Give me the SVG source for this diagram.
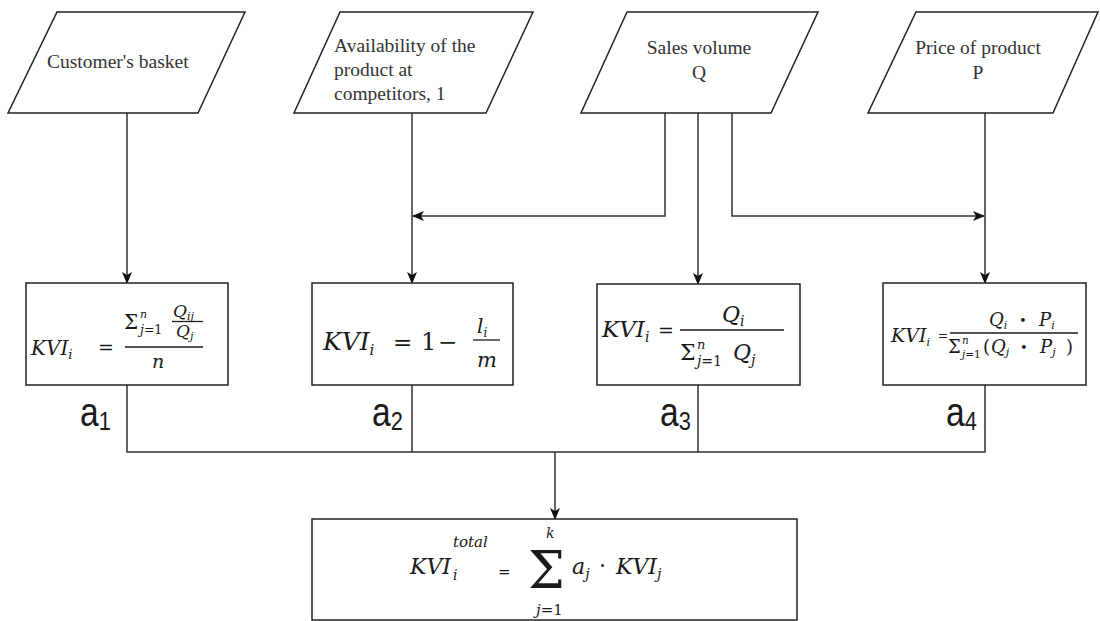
<svg xmlns="http://www.w3.org/2000/svg" width="1100" height="621" viewBox="0 0 1100 621">
<defs>
<marker id="arr" viewBox="0 0 12 10" refX="11" refY="5" markerWidth="12" markerHeight="10" markerUnits="userSpaceOnUse" orient="auto">
<path d="M0,0 L12,5 L0,10 L3,5 Z" fill="#111"/>
</marker>
</defs>
<style>
.shape{fill:#fff;stroke:#222;stroke-width:1.5}
.lbl{font-family:"Liberation Serif",serif;font-size:19.5px;fill:#333}
.m{font-family:"DejaVu Serif",serif;font-style:italic;fill:#1a1a1a}
.u{font-family:"DejaVu Serif",serif;fill:#1a1a1a}
.bar{stroke:#1a1a1a;stroke-width:1.3}
.conn{fill:none;stroke:#333;stroke-width:1.5}
.a{font-family:"Liberation Sans",sans-serif;fill:#1a1a1a}
</style>
<rect width="1100" height="621" fill="#fff"/>

<g id="connectors">
<path class="conn" d="M127,113 V283" marker-end="url(#arr)"/>
<path class="conn" d="M412,113 V283" marker-end="url(#arr)"/>
<path class="conn" d="M665,113 V216 H413" marker-end="url(#arr)"/>
<path class="conn" d="M698,113 V284" marker-end="url(#arr)"/>
<path class="conn" d="M732,113 V216 H984" marker-end="url(#arr)"/>
<path class="conn" d="M985,113 V283" marker-end="url(#arr)"/>
<path class="conn" d="M127,385 V452 H985 V385 M412,385 V452 M698,385 V452"/>
<path class="conn" d="M555,452 V519" marker-end="url(#arr)"/>
</g>

<g id="in1">
<polygon class="shape" points="57,12 245,12 198,113 8,113"/>
<text class="lbl" x="47" y="68">Customer's basket</text>
</g>
<g id="in2">
<polygon class="shape" points="340,12 533,12 486,113 294,113"/>
<text class="lbl" x="334" y="52">Availability of the</text>
<text class="lbl" x="334" y="76">product at</text>
<text class="lbl" x="334" y="100">competitors, 1</text>
</g>
<g id="in3">
<polygon class="shape" points="627,12 818,12 771,113 581,113"/>
<text class="lbl" x="699" y="54" text-anchor="middle">Sales volume</text>
<text class="lbl" x="699" y="79" text-anchor="middle">Q</text>
</g>
<g id="in4">
<polygon class="shape" points="916,12 1098,12 1053,113 868,113"/>
<text class="lbl" x="978" y="54" text-anchor="middle">Price of product</text>
<text class="lbl" x="978" y="79" text-anchor="middle">P</text>
</g>

<g id="kvi1">
<rect class="shape" x="26" y="283" width="202" height="102"/>
<text class="m" x="31" y="355" font-size="20">KVI<tspan font-size="13" dy="4">i</tspan></text>
<text class="u" x="98" y="354" font-size="19">=</text>
<text class="u" x="124" y="329" font-size="20">Σ</text>
<text class="m" x="140" y="318" font-size="11">n</text>
<text class="m" x="140" y="334" font-size="12.5">j<tspan font-style="normal">=1</tspan></text>
<text class="m" x="173" y="317" font-size="17">Q<tspan font-size="11" dy="3">ij</tspan></text>
<line class="bar" x1="172" y1="321.5" x2="203" y2="321.5"/>
<text class="m" x="176" y="337" font-size="17">Q<tspan font-size="11" dy="3">j</tspan></text>
<line class="bar" x1="125" y1="347" x2="203" y2="347"/>
<text class="m" x="158" y="368" font-size="19" text-anchor="middle">n</text>
</g>

<g id="kvi2">
<rect class="shape" x="312" y="283" width="201" height="102"/>
<text class="m" x="323" y="350" font-size="25">KVI<tspan font-size="15" dy="5">i</tspan></text>
<text class="u" x="393" y="350" font-size="23">=</text>
<text class="u" x="421" y="350" font-size="24">1</text>
<text class="u" x="438" y="350" font-size="23">−</text>
<text class="m" x="477" y="333" font-size="20">l<tspan font-size="12" dy="4">i</tspan></text>
<line class="bar" x1="473" y1="340" x2="500" y2="340"/>
<text class="m" x="487" y="367" font-size="21" text-anchor="middle">m</text>
</g>

<g id="kvi3">
<rect class="shape" x="597" y="284" width="203" height="101"/>
<text class="m" x="602" y="337" font-size="23">KVI<tspan font-size="14" dy="5">i</tspan></text>
<text class="u" x="658" y="337" font-size="19">=</text>
<line class="bar" x1="680" y1="330" x2="784" y2="330"/>
<text class="m" x="722" y="322" font-size="22">Q<tspan font-size="14" dy="4">i</tspan></text>
<text class="u" x="680" y="360" font-size="22">Σ</text>
<text class="m" x="697" y="349" font-size="13">n</text>
<text class="m" x="697" y="366" font-size="14">j<tspan font-style="normal">=1</tspan></text>
<text class="m" x="733" y="360" font-size="22">Q<tspan font-size="14" dy="5">j</tspan></text>
</g>

<g id="kvi4">
<rect class="shape" x="883" y="283" width="203" height="102"/>
<text class="m" x="891" y="342" font-size="19">KVI<tspan font-size="11" dy="4">i</tspan></text>
<text class="u" x="938" y="340" font-size="12">=</text>
<line class="bar" x1="950" y1="333" x2="1078" y2="333"/>
<text class="m" x="989" y="326" font-size="18">Q<tspan font-size="11" dy="3">i</tspan></text>
<text class="u" x="1019" y="325" font-size="13">•</text>
<text class="m" x="1039" y="326" font-size="18">P<tspan font-size="11" dy="3">i</tspan></text>
<text class="u" x="948" y="353" font-size="18">Σ</text>
<text class="m" x="962" y="344" font-size="10.5">n</text>
<text class="m" x="962" y="358" font-size="10.5">j<tspan font-style="normal">=1</tspan></text>
<text class="u" x="983" y="353" font-size="18">(</text>
<text class="m" x="991" y="353" font-size="18">Q<tspan font-size="11" dy="3">j</tspan></text>
<text class="u" x="1020" y="352" font-size="13">•</text>
<text class="m" x="1040" y="353" font-size="18">P<tspan font-size="11" dy="3">j</tspan></text>
<text class="u" x="1066" y="353" font-size="18">)</text>
</g>

<g id="weights">
<text class="a" transform="translate(80,426) scale(0.84,1)"><tspan font-size="40">a</tspan><tspan font-size="26" dy="4">1</tspan></text>
<text class="a" transform="translate(372,426) scale(0.84,1)"><tspan font-size="40">a</tspan><tspan font-size="26" dy="4">2</tspan></text>
<text class="a" transform="translate(660,426) scale(0.84,1)"><tspan font-size="40">a</tspan><tspan font-size="26" dy="4">3</tspan></text>
<text class="a" transform="translate(946,426) scale(0.84,1)"><tspan font-size="40">a</tspan><tspan font-size="26" dy="4">4</tspan></text>
</g>

<g id="total">
<rect class="shape" x="312" y="519" width="485" height="101"/>
<text class="m" x="410" y="574" font-size="22">KVI</text>
<text class="m" x="453" y="547" font-size="15">total</text>
<text class="m" x="453" y="580" font-size="14">i</text>
<text class="u" x="498" y="577" font-size="15">=</text>
<text class="u" x="528" y="588" font-size="52">Σ</text>
<text class="m" x="546" y="538" font-size="14">k</text>
<text class="m" x="536" y="615" font-size="15">j<tspan font-style="normal">=1</tspan></text>
<text class="m" x="572" y="574" font-size="22">a<tspan font-size="14" dy="5">j</tspan></text>
<text class="u" x="599" y="573" font-size="22">·</text>
<text class="m" x="616" y="574" font-size="22">KVI<tspan font-size="14" dy="5">j</tspan></text>
</g>
</svg>
